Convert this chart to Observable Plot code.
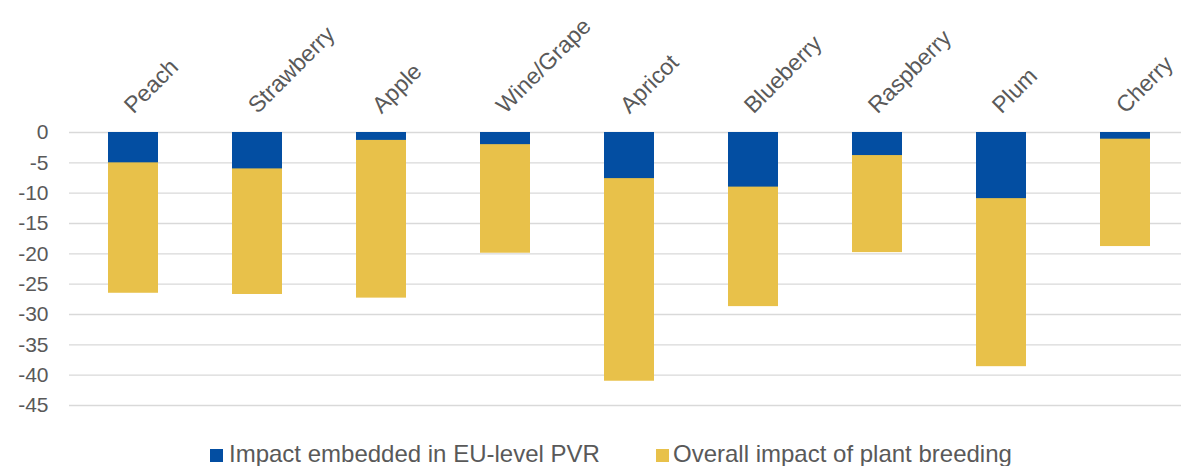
<!DOCTYPE html>
<html>
<head>
<meta charset="utf-8">
<script src="https://cdn.jsdelivr.net/npm/d3@7"></script>
<script src="https://cdn.jsdelivr.net/npm/@observablehq/plot@0.6"></script>
<style>
  html, body { margin: 0; padding: 0; background: #fff; }
  #wrap { position: relative; width: 1181px; height: 466px; overflow: hidden; font-family: "Liberation Sans", Arial, sans-serif; }
  #legend { position: absolute; left: 0; top: 440px; width: 1181px; height: 26px; }
  .sw { position: absolute; top: 9px; width: 13px; height: 13px; }
  .lt { position: absolute; top: 2px; font-size: 24px; line-height: 24px; color: #595959; white-space: nowrap; }
</style>
</head>
<body>
<div id="wrap">
  <div id="chart"></div>
  <div id="legend"></div>
</div>
<script>
const categories = ["Peach", "Strawberry", "Apple", "Wine/Grape", "Apricot", "Blueberry", "Raspberry", "Plum", "Cherry"];
const embedded = [-5.0, -6.0, -1.3, -2.0, -7.6, -9.0, -3.8, -10.9, -1.1];
const overall = [-26.5, -26.7, -27.3, -19.9, -41.0, -28.7, -19.8, -38.6, -18.8];
const yTicks = [0, -5, -10, -15, -20, -25, -30, -35, -40, -45];
const seriesNames = ["Impact embedded in EU-level PVR", "Overall impact of plant breeding"];
const seriesColors = ["#034EA2", "#E8C14A"];

const data = categories.map((c, i) => ({category: c, embedded: embedded[i], overall: overall[i]}));

const chart = Plot.plot({
  width: 1181,
  height: 440,
  marginTop: 132,
  marginBottom: 35,
  marginLeft: 69,
  marginRight: 0,
  style: {fontFamily: "'Liberation Sans', Arial, sans-serif", color: "#595959", background: "#fff"},
  x: {domain: categories, range: [69, 1188], paddingInner: 0.6, paddingOuter: 0.3, axis: null},
  y: {domain: [-45, 0], ticks: yTicks, tickFormat: d => String(d)},
  marks: [
    Plot.ruleY(yTicks, {stroke: "#d9d9d9", strokeWidth: 1.4}),
    Plot.axisY(yTicks, {tickSize: 0, tickPadding: 21, fontSize: 21, fill: "#595959", tickFormat: d => String(d), label: null}),
    Plot.barY(data, {x: "category", y: "overall", fill: seriesColors[1]}),
    Plot.barY(data, {x: "category", y: "embedded", fill: seriesColors[0]}),
    Plot.text(categories, {x: d => d, frameAnchor: "top", rotate: -45, textAnchor: "start", lineAnchor: "bottom", dx: 0, dy: -18, fontSize: 23, fill: "#595959"})
  ]
});
document.getElementById("chart").appendChild(chart);

const legend = document.getElementById("legend");
const pos = [{sw: 210, tx: 229}, {sw: 656, tx: 673}];
seriesNames.forEach((name, i) => {
  const s = document.createElement("div");
  s.className = "sw";
  s.style.left = pos[i].sw + "px";
  s.style.background = seriesColors[i];
  legend.appendChild(s);
  const t = document.createElement("div");
  t.className = "lt";
  t.style.left = pos[i].tx + "px";
  t.textContent = name;
  legend.appendChild(t);
});
</script>
</body>
</html>
